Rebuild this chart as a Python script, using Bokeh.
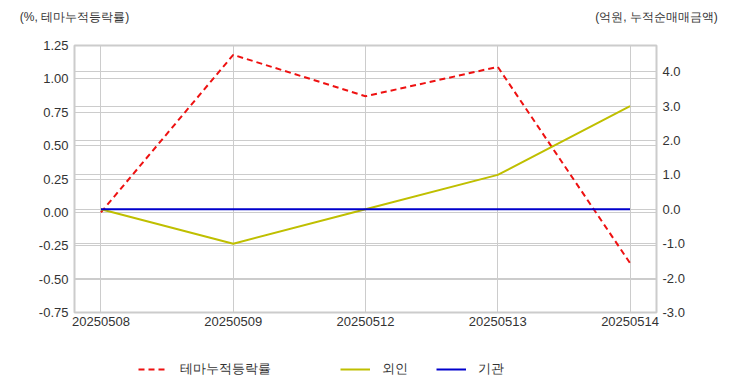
from bokeh.plotting import figure
from bokeh.layouts import column
from bokeh.models import (Range1d, LinearAxis, FixedTicker, Legend, LegendItem,
                          Grid, NumeralTickFormatter, ColumnDataSource)
from bokeh.embed import file_html
from bokeh.resources import INLINE

dates = ["20250508", "20250509", "20250512", "20250513", "20250514"]
theme_ret = [0.0, 1.18, 0.87, 1.09, -0.38]
foreign = [0.0, -1.0, 0.0, 1.0, 3.0]
inst = [0.0, 0.0, 0.0, 0.0, 0.0]
left_ticks = [-0.75, -0.5, -0.25, 0.0, 0.25, 0.5, 0.75, 1.0, 1.25]
right_ticks = [-3.0, -2.0, -1.0, 0.0, 1.0, 2.0, 3.0, 4.0]
left_title = "(%, 테마누적등락률)"
right_title = "(억원, 누적순매매금액)"
series_names = ["테마누적등락률", "외인", "기관"]

xs = list(range(len(dates)))
src = ColumnDataSource(dict(x=xs, theme=theme_ret, foreign=foreign, inst=inst))

FONT = "Liberation Sans"
TXT = "#333333"
GRID = "#cccccc"
STYLES = [dict(line_color="#ee1111", line_width=2, line_dash="6 4"),
          dict(line_color="#bfbf00", line_width=2),
          dict(line_color="#0000cc", line_width=2)]

p = figure(width=732, height=340, output_backend="svg", toolbar_location=None,
           x_range=Range1d(-0.2, len(dates) - 0.8), y_range=Range1d(-0.75, 1.25),
           min_border_left=74, min_border_right=76, min_border_top=45, min_border_bottom=28)
p.extra_y_ranges = {"right": Range1d(-3.0, 4.76)}
p.extra_x_ranges = {"top": Range1d(0, 1)}

p.outline_line_color = GRID
p.outline_line_width = 2
p.background_fill_color = "white"
p.border_fill_color = "white"

# axes
xa = p.xaxis[0]
xa.ticker = FixedTicker(ticks=xs)
xa.major_label_overrides = {i: d for i, d in enumerate(dates)}
ya = p.yaxis[0]
ya.ticker = FixedTicker(ticks=left_ticks)
ya.formatter = NumeralTickFormatter(format="0.00")
ra = LinearAxis(y_range_name="right", ticker=FixedTicker(ticks=right_ticks),
                formatter=NumeralTickFormatter(format="0.0"))
p.add_layout(ra, "right")
ta = LinearAxis(x_range_name="top", ticker=FixedTicker(ticks=[0, 1]),
                major_label_overrides={0: left_title, 1: right_title})
p.add_layout(ta, "above")
for ax in (xa, ya, ra, ta):
    ax.axis_line_color = None
    ax.major_tick_line_color = None
    ax.minor_tick_line_color = None
    ax.major_tick_out = 0
    ax.major_label_text_font = FONT
    ax.major_label_text_font_size = "13px"
    ax.major_label_text_color = TXT
    ax.major_label_standoff = 6
xa.major_label_standoff = 4
ta.major_label_text_font_size = "12px"
ta.major_label_standoff = 22

# grids
p.xgrid.grid_line_color = GRID
p.ygrid.grid_line_color = GRID
rg = Grid(dimension=1, ticker=ra.ticker, y_range_name="right",
          grid_line_color=GRID, grid_line_width=1)
p.add_layout(rg)

p.line("x", "theme", source=src, **STYLES[0])
p.line("x", "foreign", source=src, y_range_name="right", **STYLES[1])
p.line("x", "inst", source=src, y_range_name="right", **STYLES[2])

# legend strip below the chart (its own lines lie outside its view; only the keys show)
lg = figure(width=732, height=52, output_backend="svg", toolbar_location=None,
            x_range=Range1d(100, 101), y_range=Range1d(100, 101),
            x_axis_type=None, y_axis_type=None,
            min_border_left=74, min_border_right=76, min_border_top=0, min_border_bottom=0)
lg.outline_line_color = None
lg.xgrid.visible = False
lg.ygrid.visible = False
lg.border_fill_color = "white"
keys = [lg.line("x", col, source=src, **s)
        for col, s in zip(["theme", "foreign", "inst"], STYLES)]

def mk_legend(items, loc):
    return Legend(items=items, location=loc, orientation="horizontal",
                  border_line_alpha=0, background_fill_alpha=0, padding=0, margin=0,
                  spacing=28, glyph_width=30, glyph_height=20, label_standoff=12,
                  label_text_font=FONT, label_text_font_size="13px", label_text_color=TXT)

lg.add_layout(mk_legend([LegendItem(label=series_names[0], renderers=[keys[0]])], (64, 13)), "center")
lg.add_layout(mk_legend([LegendItem(label=series_names[1], renderers=[keys[1]]),
                         LegendItem(label=series_names[2], renderers=[keys[2]])], (266, 13)), "center")

open("out.html", "w").write(file_html(column(p, lg, spacing=0), INLINE))
